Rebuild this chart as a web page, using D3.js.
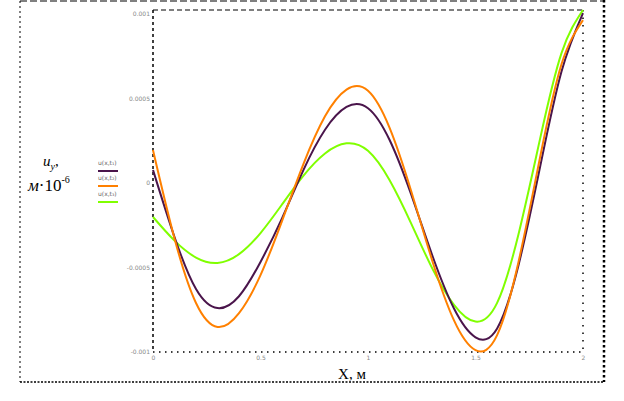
<!DOCTYPE html>
<html><head><meta charset="utf-8">
<script src="https://cdn.jsdelivr.net/npm/d3@7"></script>
<style>body{margin:0;background:#fff;}svg{display:block;}</style>
</head><body>
<script>
// x positions (m)
const xValues = [0,0.1,0.2,0.3,0.4,0.5,0.6,0.7,0.8,0.9,1.0,1.1,1.2,1.3,1.4,1.5,1.6,1.7,1.8,1.9,2.0];
// series values (units of 1e-3 on the tick scale)
const seriesPurple = [0.077,-0.320,-0.627,-0.740,-0.670,-0.467,-0.209,0.078,0.315,0.450,0.443,0.256,-0.065,-0.432,-0.743,-0.913,-0.862,-0.486,0.093,0.660,1.006];
const seriesOrange = [0.195,-0.328,-0.710,-0.852,-0.770,-0.545,-0.225,0.114,0.395,0.553,0.546,0.328,-0.044,-0.464,-0.813,-0.989,-0.902,-0.467,0.150,0.703,0.964];
const seriesGreen  = [-0.201,-0.341,-0.441,-0.473,-0.421,-0.296,-0.127,0.044,0.175,0.235,0.191,0.018,-0.237,-0.508,-0.721,-0.820,-0.711,-0.303,0.260,0.769,1.024];
const seriesNames = ["u(x,t₁)","u(x,t₂)","u(x,t₃)"];
const xTicks = [0,0.5,1,1.5,2];
const xTickLabels = ["0","0.5","1","1.5","2"];
const yTicks = [-1,-0.5,0,0.5,1];
const yTickLabels = ["-0.001","-0.0005","0","0.0005","0.001"];

const W = 624, H = 401;
const svg = d3.select("body").append("svg").attr("width",W).attr("height",H);
const pL = 153, pR = 583, pT = 10, pB = 352;
const x = d3.scaleLinear().domain([0,2]).range([pL,pR]);
const y = d3.scaleLinear().domain([-1,1.024]).range([pB,pT]);

// outer frame
const ol=20, orr=604, ot=1, ob=382;
svg.append("line").attr("x1",ol).attr("x2",orr).attr("y1",ot).attr("y2",ot).attr("stroke","#000").attr("stroke-dasharray","7,3");
svg.append("line").attr("x1",ol).attr("x2",ol).attr("y1",ot).attr("y2",ob).attr("stroke","#000").attr("stroke-dasharray","2,3");
svg.append("line").attr("x1",ol).attr("x2",orr).attr("y1",ob).attr("y2",ob).attr("stroke","#000").attr("stroke-width",1.5).attr("stroke-dasharray","2,1.5");
svg.append("line").attr("x1",orr).attr("x2",orr).attr("y1",0).attr("y2",ob).attr("stroke","#000").attr("stroke-width",2.5).attr("stroke-dasharray","2.5,2.5");

// plot frame
svg.append("line").attr("x1",pL).attr("x2",pR).attr("y1",pT).attr("y2",pT).attr("stroke","#000").attr("stroke-dasharray","5,3");
svg.append("line").attr("x1",pL).attr("x2",pL).attr("y1",pT).attr("y2",pB).attr("stroke","#000").attr("stroke-width",1.5).attr("stroke-dasharray","3,3");
svg.append("line").attr("x1",pL).attr("x2",pR).attr("y1",pB).attr("y2",pB).attr("stroke","#000").attr("stroke-width",1.5).attr("stroke-dasharray","1.5,4.5");
svg.append("line").attr("x1",pR).attr("x2",pR).attr("y1",pT).attr("y2",pB).attr("stroke","#000").attr("stroke-width",1.5).attr("stroke-dasharray","1.5,6");

// axes (tick labels)
const xAxis = d3.axisBottom(x).tickValues(xTicks).tickFormat((d,i)=>xTickLabels[i]).tickSize(0).tickPadding(4);
const gx = svg.append("g").attr("transform",`translate(0,${pB})`).call(xAxis);
gx.select(".domain").remove();
gx.selectAll("text").attr("font-family","DejaVu Sans").attr("font-size",6).attr("fill","#888");
const yAxis = d3.axisLeft(y).tickValues(yTicks).tickFormat((d,i)=>yTickLabels[i]).tickSize(0).tickPadding(3);
const gy = svg.append("g").attr("transform",`translate(${pL},0)`).call(yAxis);
gy.select(".domain").remove();
gy.selectAll("text").attr("font-family","DejaVu Sans").attr("font-size",6).attr("fill","#888");

// curves
const colors = ["#4a154b","#ff8000","#80ff00"];
const allSeries = [seriesPurple, seriesOrange, seriesGreen];
const line = d3.line().x((d,i)=>x(xValues[i])).y(d=>y(d)).curve(d3.curveNatural);
[2,0,1].forEach(k=>{
  svg.append("path").attr("d",line(allSeries[k])).attr("fill","none")
     .attr("stroke",colors[k]).attr("stroke-width",2);
});

// legend
const legY = [171,186,202];
allSeries.forEach((s,k)=>{
  svg.append("line").attr("x1",98).attr("x2",118).attr("y1",legY[k]).attr("y2",legY[k]).attr("stroke",colors[k]).attr("stroke-width",2);
  svg.append("text").attr("x",98).attr("y",legY[k]-6).attr("font-family","DejaVu Sans").attr("font-size",6).attr("fill","#666").text(seriesNames[k]);
});

// y label
const yl = svg.append("text").attr("x",43).attr("y",166).attr("font-family","Liberation Serif").attr("font-size",15).attr("font-style","italic");
yl.append("tspan").text("u");
yl.append("tspan").attr("font-size",10).attr("dy",4).text("y");
yl.append("tspan").attr("dy",-4).attr("font-style","normal").text(",");
const yl2 = svg.append("text").attr("x",28).attr("y",191).attr("font-family","Liberation Serif").attr("font-size",17);
yl2.append("tspan").attr("font-style","italic").text("м");
yl2.append("tspan").text("·10");
yl2.append("tspan").attr("font-size",10).attr("dy",-8).text("-6");

// x label
svg.append("text").attr("x",352).attr("y",379).attr("text-anchor","middle").attr("font-family","Liberation Serif").attr("font-size",15).text("X, м");
</script>
</body></html>
